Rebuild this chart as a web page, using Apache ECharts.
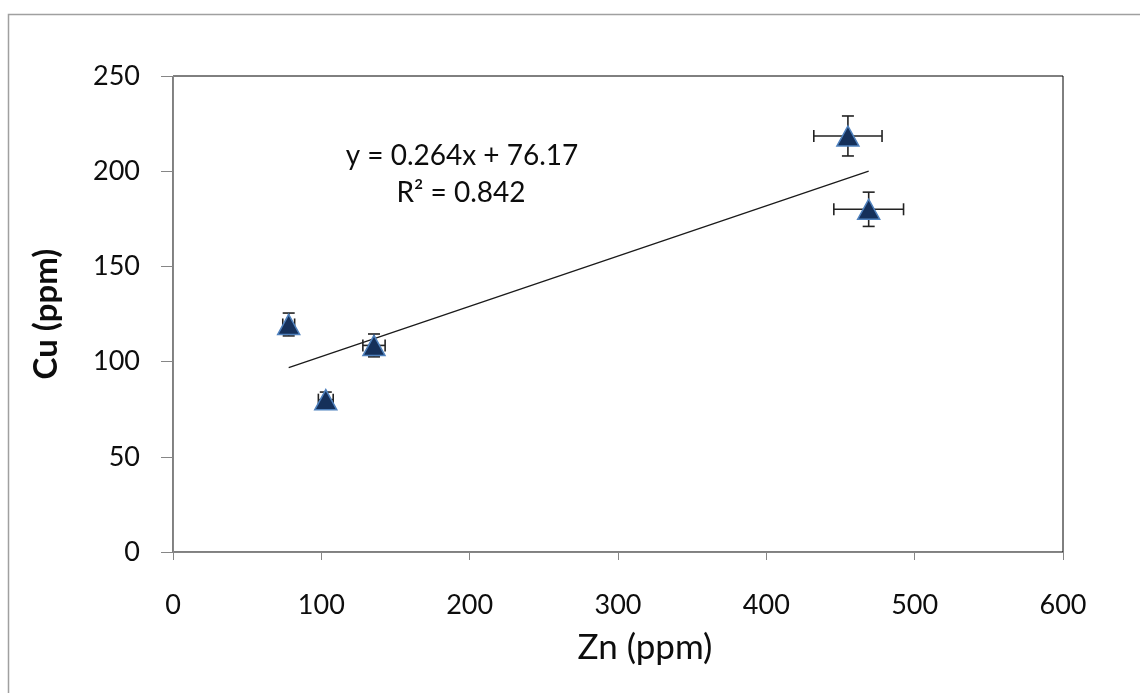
<!DOCTYPE html>
<html><head><meta charset="utf-8">
<script src="https://cdn.jsdelivr.net/npm/echarts@6/dist/echarts.min.js"></script>
<style>html,body{margin:0;padding:0;background:#fff}#c{width:1140px;height:693px}</style>
</head><body><div id="c"></div>
<script>
// Data
const zn = [78, 103, 135.5, 455, 469];
const cu = [119.5, 80, 108.5, 218.5, 180];
const znErr = [4, 5, 7.5, 23, 23.5];
const cuErr = [6, 4, 6, 10.5, 9];
const trendX = [78, 469];
const trendY = [96.8, 200.0];
const equationLines = ['y = 0.264x + 76.17', 'R\u00b2 = 0.842'];
const xTicks = [0, 100, 200, 300, 400, 500, 600];
const yTicks = [0, 50, 100, 150, 200, 250];

const FONT = 'Lato, "Open Sans", sans-serif';
const TXT = '#0d0d0d';
const chart = echarts.init(document.getElementById('c'));
const points = zn.map((x, i) => [x, cu[i], znErr[i], cuErr[i]]);

chart.setOption({
  animation: false,
  backgroundColor: '#fff',
  grid: { left: 173, top: 76, right: 77, bottom: 141, show: true, borderColor: '#000', borderWidth: 1 },
  xAxis: {
    type: 'value', min: xTicks[0], max: xTicks[xTicks.length - 1], interval: 100,
    name: 'Zn (ppm)', nameLocation: 'middle', nameGap: 78,
    nameTextStyle: { fontFamily: FONT, fontSize: 35, color: TXT, padding: [0, 0, 0, 54] },
    axisLine: { show: true, lineStyle: { color: '#868686', width: 1 } },
    axisTick: { show: true, inside: false, length: 8, lineStyle: { color: '#868686' } },
    axisLabel: { margin: 40, fontFamily: FONT, fontSize: 27, color: TXT },
    splitLine: { show: false }
  },
  yAxis: {
    type: 'value', min: yTicks[0], max: yTicks[yTicks.length - 1], interval: 50,
    name: 'Cu (ppm)', nameLocation: 'middle', nameGap: 110, nameRotate: 90,
    nameTextStyle: { fontFamily: FONT, fontSize: 33, fontWeight: 'bold', color: TXT },
    axisLine: { show: true, lineStyle: { color: '#868686', width: 1 } },
    axisTick: { show: true, inside: false, length: 12, lineStyle: { color: '#868686' } },
    axisLabel: { margin: 33, fontFamily: FONT, fontSize: 27, color: TXT },
    splitLine: { show: false }
  },
  series: [
    {
      type: 'line', data: trendX.map((x, i) => [x, trendY[i]]),
      showSymbol: false, symbol: 'none',
      lineStyle: { color: '#1a1a1a', width: 1.3 }, z: 2, silent: true
    },
    {
      type: 'custom', z: 3,
      data: points,
      renderItem: function (params, api) {
        const x = api.value(0), y = api.value(1), ex = api.value(2), ey = api.value(3);
        const c = api.coord([x, y]);
        const l = api.coord([x - ex, y]), r = api.coord([x + ex, y]);
        const t = api.coord([x, y + ey]), b = api.coord([x, y - ey]);
        const cap = 6;
        const st = { stroke: '#222', lineWidth: 1.6 };
        const lines = [
          [l[0], c[1], r[0], c[1]],
          [l[0], c[1] - cap, l[0], c[1] + cap],
          [r[0], c[1] - cap, r[0], c[1] + cap],
          [c[0], t[1], c[0], b[1]],
          [c[0] - cap, t[1], c[0] + cap, t[1]],
          [c[0] - cap, b[1], c[0] + cap, b[1]]
        ];
        return {
          type: 'group',
          children: lines.map(p => ({ type: 'line', shape: { x1: p[0], y1: p[1], x2: p[2], y2: p[3] }, style: st }))
        };
      }
    },
    {
      type: 'scatter', z: 4,
      data: zn.map((x, i) => [x, cu[i]]),
      symbol: 'triangle', symbolSize: [22, 20],
      itemStyle: { color: '#15305a', borderColor: '#4F81BD', borderWidth: 1.5, opacity: 1 }
    }
  ],
  graphic: [
    { type: 'rect', shape: { x: 8.5, y: 14.5, width: 1150, height: 700 }, style: { fill: 'none', stroke: '#a0a0a0', lineWidth: 1.5 }, z: -10 },
    { type: 'text', x: 462, y: 156, style: { text: equationLines[0], font: '28px ' + FONT, fill: TXT, textAlign: 'center', textVerticalAlign: 'middle' } },
    { type: 'text', x: 461, y: 193, style: { text: equationLines[1], font: '28px ' + FONT, fill: TXT, textAlign: 'center', textVerticalAlign: 'middle' } }
  ]
});
</script></body></html>
